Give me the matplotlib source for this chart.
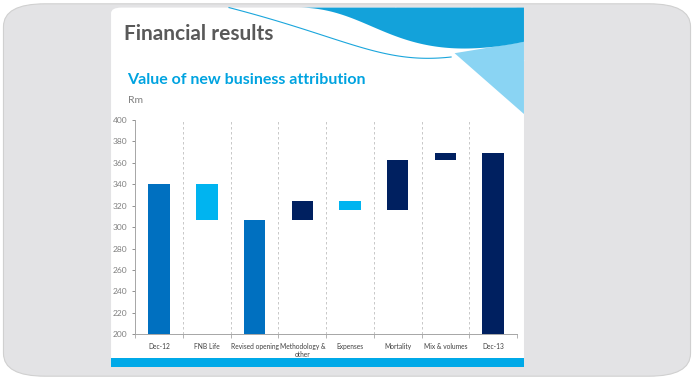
import matplotlib
matplotlib.use("Agg")
import matplotlib.pyplot as plt
from matplotlib.patches import FancyBboxPatch, Polygon
from matplotlib.lines import Line2D
import numpy as np

plt.rcParams["font.family"] = ["Lato", "DejaVu Sans"]

# ====== data ======
categories = ["Dec-12", "FNB Life", "Revised opening", "Methodology &\nother",
              "Expenses", "Mortality", "Mix & volumes", "Dec-13"]
bar_low = [0, 307, 0, 307, 316, 316, 362, 0]
bar_high = [340, 340, 307, 324, 324, 362, 369, 369]
bar_kind = ["total", "down", "total", "up", "down", "up", "up", "end"]
yticks = list(range(200, 401, 20))

# ====== colours ======
kind_color = {"total": "#0070C0", "down": "#00B4F0", "up": "#002060", "end": "#002060"}
c_title = "#595959"
c_sub = "#00A3E0"
c_axis = "#A6A6A6"


def bezier(p0, p1, p2, p3, n=80):
    t = np.linspace(0, 1, n)[:, None]
    p0, p1, p2, p3 = map(np.array, (p0, p1, p2, p3))
    return (1 - t) ** 3 * p0 + 3 * (1 - t) ** 2 * t * p1 + 3 * (1 - t) * t ** 2 * p2 + t ** 3 * p3


fig = plt.figure(figsize=(6.94, 3.80), dpi=100)
fig.patch.set_facecolor("white")

# background frame
fig.patches.append(FancyBboxPatch((0.005, 0.01), 0.99, 0.98,
                                  boxstyle="round,pad=0,rounding_size=0.06",
                                  transform=fig.transFigure, facecolor="#E3E3E5",
                                  edgecolor="#D0D0D0", linewidth=0.8, zorder=0))
# slide
fig.patches.append(FancyBboxPatch((0.16, 0.035), 0.595, 0.945,
                                  boxstyle="round,pad=0,rounding_size=0.015",
                                  transform=fig.transFigure, facecolor="white",
                                  edgecolor="none", zorder=1))
# bottom stripe
fig.patches.append(Polygon([(0.16, 0.035), (0.755, 0.035), (0.755, 0.058), (0.16, 0.058)],
                           closed=True, transform=fig.transFigure,
                           facecolor="#00A9E8", edgecolor="none", zorder=2))

# top-right wave (decoration)
curve = bezier((0.43, 0.98), (0.54, 0.98), (0.57, 0.82), (0.755, 0.89))
pts = [tuple(p) for p in curve] + [(0.755, 0.98)]
fig.patches.append(Polygon([(0.655, 0.86), (0.755, 0.89), (0.755, 0.70)], closed=True,
                           transform=fig.transFigure, facecolor="#8AD4F3",
                           edgecolor="none", zorder=2))
fig.patches.append(Polygon(pts, closed=True, transform=fig.transFigure,
                           facecolor="#13A2DA", edgecolor="none", zorder=2))
thin = bezier((0.33, 0.98), (0.50, 0.90), (0.55, 0.83), (0.65, 0.85))
fig.lines.append(Line2D(thin[:, 0], thin[:, 1], transform=fig.transFigure,
                        color="#1BA6DC", linewidth=0.8, zorder=2))
fig.lines.append(Line2D([0.57, 0.69], [0.98, 0.86], transform=fig.transFigure,
                        color="white", linewidth=0.6, alpha=0.8, zorder=2))
fig.lines.append(Line2D([0.68, 0.755], [0.98, 0.84], transform=fig.transFigure,
                        color="white", linewidth=0.6, alpha=0.8, zorder=2))

fig.text(0.178, 0.91, "Financial results", fontsize=15, color=c_title,
         fontweight="bold", ha="left", va="center", zorder=3)
fig.text(0.183, 0.79, "Value of new business attribution", fontsize=11.5,
         color=c_sub, fontweight="bold", ha="left", va="center", zorder=3)
fig.text(0.185, 0.735, "Rm", fontsize=7.5, color="#7F7F7F",
         ha="left", va="center", zorder=3)

# ====== chart ======
ax = fig.add_axes([0.195, 0.12, 0.55, 0.565])
ax.set_zorder(3)
ax.patch.set_alpha(0)
x = np.arange(len(categories))
heights = [h - l for l, h in zip(bar_low, bar_high)]
colors = [kind_color[k] for k in bar_kind]
ax.bar(x, heights, bottom=bar_low, width=0.45, color=colors, edgecolor="none", zorder=2)

for b in np.arange(0.5, len(categories) - 0.5):
    ax.axvline(b, color="#BFBFBF", linestyle=(0, (3, 3)), linewidth=0.6, zorder=1)

ax.set_xlim(-0.5, len(categories) - 0.5)
ax.set_ylim(200, 400)
ax.set_yticks(yticks)
ax.tick_params(axis="y", labelsize=6, colors="#7F7F7F", length=2, width=0.6)
ax.set_xticks(x)
ax.set_xticklabels(categories, fontsize=4.8, color="#404040", va="top")
ax.set_xticks(np.arange(-0.5, len(categories)), minor=True)
ax.tick_params(axis="x", which="major", length=0, pad=6)
ax.tick_params(axis="x", which="minor", length=3, color=c_axis, width=0.6)
for s in ["top", "right"]:
    ax.spines[s].set_visible(False)
for s in ["left", "bottom"]:
    ax.spines[s].set_color(c_axis)
    ax.spines[s].set_linewidth(0.7)

plt.savefig("out.png", dpi=100, facecolor=fig.get_facecolor())
plt.close()
